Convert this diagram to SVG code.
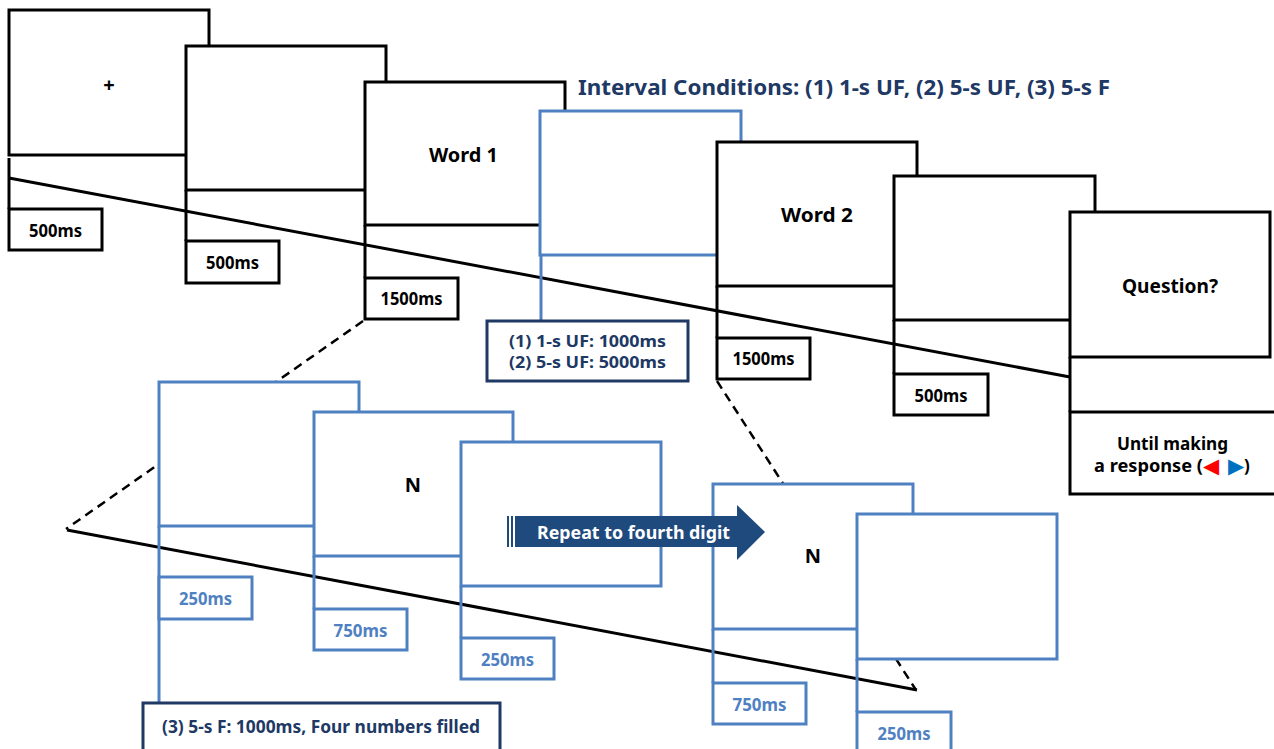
<svg xmlns="http://www.w3.org/2000/svg" width="1274" height="749" viewBox="0 0 1274 749">
<style>
text{font-family:"Noto Sans","Liberation Sans",sans-serif;font-weight:700;}
.scr{fill:#fff;stroke:#000;stroke-width:3;}
.bscr{fill:#fff;stroke:#4F81C2;stroke-width:3;}
.tk{stroke:#000;stroke-width:3;fill:none;}
.btk{stroke:#4F81C2;stroke-width:3;fill:none;}
.box{fill:#fff;stroke:#000;stroke-width:3;}
.bbox{fill:#fff;stroke:#4F81C2;stroke-width:3;}
.nbox{fill:#fff;stroke:#203864;stroke-width:3;}
.lbl{font-size:17px;fill:#000;text-anchor:middle;}
.blbl{font-size:17px;fill:#4F81C2;text-anchor:middle;}
.nlbl{font-size:16px;fill:#203864;text-anchor:middle;}
.big{font-size:20px;fill:#000;text-anchor:middle;}
.line{stroke:#000;stroke-width:3;fill:none;}
.dash{stroke:#000;stroke-width:2.5;fill:none;stroke-dasharray:9 6;}
.tri{font-family:"DejaVu Sans",sans-serif;font-size:21px;font-weight:400;}
</style>

<g id="connectors">
  <line class="dash" x1="363" y1="321" x2="66" y2="529"/>
  <line class="dash" x1="717" y1="381" x2="916" y2="690"/>
  <line class="line" x1="9" y1="178" x2="1070" y2="377"/>
  <line class="line" x1="67" y1="530" x2="917" y2="690"/>
</g>

<text x="578" y="95" font-size="20.5" fill="#203864" textLength="532" lengthAdjust="spacingAndGlyphs">Interval Conditions: (1) 1-s UF, (2) 5-s UF, (3) 5-s F</text>

<g id="screen1">
  <rect class="scr" x="9" y="10" width="200" height="145"/>
  <text x="109" y="92" font-size="20" fill="#000" text-anchor="middle">+</text>
  <line class="tk" x1="9" y1="158" x2="9" y2="209"/>
  <rect class="box" x="9" y="209" width="93" height="41"/>
  <text class="lbl" x="55.5" y="237" textLength="53" lengthAdjust="spacingAndGlyphs">500ms</text>
</g>

<g id="screen2">
  <rect class="scr" x="186" y="46" width="200" height="144"/>
  <line class="tk" x1="186" y1="190" x2="186" y2="241"/>
  <rect class="box" x="186" y="241" width="93" height="42"/>
  <text class="lbl" x="232.5" y="269" textLength="53" lengthAdjust="spacingAndGlyphs">500ms</text>
</g>

<g id="screen3">
  <rect class="scr" x="365" y="82" width="200" height="143"/>
  <text class="big" x="463.5" y="162" textLength="69" lengthAdjust="spacingAndGlyphs">Word 1</text>
  <line class="tk" x1="365" y1="225" x2="365" y2="278"/>
  <rect class="box" x="365" y="278" width="93" height="41"/>
  <text class="lbl" x="411.5" y="305" textLength="62" lengthAdjust="spacingAndGlyphs">1500ms</text>
</g>

<g id="screen4">
  <rect class="bscr" x="540" y="111" width="201" height="144"/>
  <line class="btk" x1="541" y1="255" x2="541" y2="321"/>
  <rect class="nbox" x="487" y="321" width="201" height="60"/>
  <text class="nlbl" x="587.5" y="347" textLength="157" lengthAdjust="spacingAndGlyphs">(1) 1-s UF: 1000ms</text>
  <text class="nlbl" x="587.5" y="368" textLength="157" lengthAdjust="spacingAndGlyphs">(2) 5-s UF: 5000ms</text>
</g>

<g id="screen5">
  <rect class="scr" x="717" y="142" width="200" height="144"/>
  <text class="big" x="817" y="222" textLength="72" lengthAdjust="spacingAndGlyphs">Word 2</text>
  <line class="tk" x1="717" y1="286" x2="717" y2="338"/>
  <rect class="box" x="717" y="338" width="93" height="41"/>
  <text class="lbl" x="763.5" y="365" textLength="62" lengthAdjust="spacingAndGlyphs">1500ms</text>
</g>

<g id="screen6">
  <rect class="scr" x="894" y="176" width="201" height="144"/>
  <line class="tk" x1="894" y1="320" x2="894" y2="374"/>
  <rect class="box" x="894" y="374" width="94" height="41"/>
  <text class="lbl" x="941" y="402" textLength="53" lengthAdjust="spacingAndGlyphs">500ms</text>
</g>

<g id="screen7">
  <rect class="scr" x="1070" y="212" width="200" height="145"/>
  <text class="big" x="1170" y="293" textLength="96" lengthAdjust="spacingAndGlyphs">Question?</text>
  <line class="tk" x1="1070" y1="357" x2="1070" y2="412"/>
  <rect class="box" x="1070" y="412" width="220" height="82"/>
  <text class="lbl" x="1172.5" y="450" textLength="111" lengthAdjust="spacingAndGlyphs">Until making</text>
  <text y="472" font-size="17" fill="#000"><tspan x="1094" textLength="109" lengthAdjust="spacingAndGlyphs">a response (</tspan><tspan class="tri" x="1203" y="473" fill="#FF0000">◀</tspan> <tspan class="tri" x="1228" y="473" fill="#0070C0">▶</tspan><tspan x="1244" y="472">)</tspan></text>
</g>

<g id="digit1">
  <rect class="bscr" x="159" y="382" width="200" height="144"/>
  <line class="btk" x1="159" y1="526" x2="159" y2="703"/>
  <rect class="bbox" x="159" y="577" width="93" height="42"/>
  <text class="blbl" x="205.5" y="605" textLength="53" lengthAdjust="spacingAndGlyphs">250ms</text>
  <rect class="nbox" x="143" y="703" width="357" height="60"/>
  <text class="lbl" x="321" y="733" style="fill:#203864" textLength="318" lengthAdjust="spacingAndGlyphs">(3) 5-s F: 1000ms, Four numbers filled</text>
</g>

<g id="digit2">
  <rect class="bscr" x="314" y="412" width="199" height="144"/>
  <text class="big" x="413" y="492" font-size="19">N</text>
  <line class="btk" x1="314" y1="556" x2="314" y2="609"/>
  <rect class="bbox" x="314" y="609" width="93" height="41"/>
  <text class="blbl" x="360.5" y="637" textLength="54" lengthAdjust="spacingAndGlyphs">750ms</text>
</g>

<g id="digit3">
  <rect class="bscr" x="461" y="442" width="200" height="144"/>
  <line class="btk" x1="461" y1="586" x2="461" y2="638"/>
  <rect class="bbox" x="461" y="638" width="93" height="41"/>
  <text class="blbl" x="507.5" y="666" textLength="53" lengthAdjust="spacingAndGlyphs">250ms</text>
</g>

<g id="digit4">
  <rect class="bscr" x="713" y="484" width="200" height="145"/>
  <text class="big" x="813" y="563" font-size="19">N</text>
  <line class="btk" x1="713" y1="629" x2="713" y2="683"/>
  <rect class="bbox" x="713" y="683" width="93" height="41"/>
  <text class="blbl" x="759.5" y="711" textLength="54" lengthAdjust="spacingAndGlyphs">750ms</text>
</g>

<g id="digit5">
  <rect class="bscr" x="857" y="514" width="200" height="145"/>
  <line class="btk" x1="857" y1="659" x2="857" y2="712"/>
  <rect class="bbox" x="857" y="712" width="94" height="50"/>
  <text class="blbl" x="904" y="740" textLength="53" lengthAdjust="spacingAndGlyphs">250ms</text>
</g>

<g id="repeat-arrow">
  <rect x="507" y="516" width="2" height="31" fill="#1F4A7E"/>
  <rect x="511" y="516" width="2" height="31" fill="#1F4A7E"/>
  <polygon points="515,516 737,516 737,505 765,532 737,560 737,547 515,547" fill="#1F4A7E"/>
  <text x="633.5" y="539" font-size="17" fill="#fff" text-anchor="middle" textLength="193" lengthAdjust="spacingAndGlyphs">Repeat to fourth digit</text>
</g>
</svg>
